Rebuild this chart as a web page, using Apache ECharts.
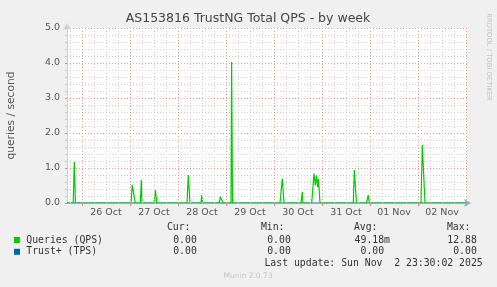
<!DOCTYPE html>
<html>
<head>
<meta charset="utf-8">
<script src="https://cdn.jsdelivr.net/npm/echarts@6/dist/echarts.min.js"></script>
<style>
html,body{margin:0;padding:0;background:#F0F0F0;}
#c{width:497px;height:287px;}
</style>
</head>
<body>
<div id="c"></div>
<script>
// ---- data (hours relative to 26 Oct 00:00) ----
const qpsHours = [-7.5, -4.4, -3.85, -3.3, 24.5, 25.15, 25.85, 26.15, 26.65, 29.15, 29.65, 30.0,
  36.0, 36.75, 37.35, 52.5, 53.15, 54.0, 59.5, 59.85, 60.35, 68.65, 69.15, 70.0, 70.65,
  74.5, 74.8, 75.25, 99.0, 100.15, 101.0, 109.5, 110.15, 110.4,
  114.85, 116.0, 116.65, 117.25, 117.85, 118.25, 119.0, 135.65, 136.15, 137.25,
  142.25, 142.65, 143.15, 143.5, 144.0, 169.5, 170.15, 171.5, 192.5];
const qpsValues = [0, 0, 1.18, 0, 0, 0.52, 0.27, 0.27, 0, 0, 0.66, 0,
  0, 0.37, 0, 0, 0.80, 0, 0, 0.23, 0, 0, 0.18, 0.18, 0,
  0, 4.03, 0, 0, 0.70, 0, 0, 0.32, 0,
  0, 0.84, 0.50, 0.79, 0.45, 0.69, 0, 0, 0.94, 0,
  0, 0.10, 0.23, 0.06, 0, 0, 1.66, 0, 0];
const tpsHours = [-7.5, 192.5];
const tpsValues = [0, 0];
const dayLabels = ['26 Oct', '27 Oct', '28 Oct', '29 Oct', '30 Oct', '31 Oct', '01 Nov', '02 Nov'];
const dayLabelHours = [12, 36, 60, 84, 108, 132, 156, 180];
const midnightHours = [0, 24, 48, 72, 96, 120, 144, 168, 192];
const sixHourHours = [-6, 6, 12, 18, 30, 36, 42, 54, 60, 66, 78, 84, 90, 102, 108, 114,
  126, 132, 138, 150, 156, 162, 174, 180, 186];
const yTickLabels = ['0.0', '1.0', '2.0', '3.0', '4.0', '5.0'];
const legendNames = ['Queries (QPS)', 'Trust+ (TPS)'];
const legendColors = ['#00CC00', '#0066B3'];
const curValues = ['0.00', '0.00'];
const minValues = ['0.00', '0.00'];
const avgValues = ['49.18m', '0.00 '];
const maxValues = ['12.88', '0.00'];
const titleText = 'AS153816 TrustNG Total QPS - by week';
const lastUpdate = 'Last update: Sun Nov  2 23:30:02 2025';

// ---- chart ----
const chart = echarts.init(document.getElementById('c'), null, {renderer: 'canvas'});
const mono = '9.8px "DejaVu Sans Mono"';
const legendText = [];
function t(text, x, y, align, font, fill) {
  legendText.push({type: 'text', silent: true, style: {text: text, x: x, y: y, font: font || mono,
    fill: fill || '#333', align: align, textAlign: align, verticalAlign: 'middle', textVerticalAlign: 'middle'}});
}
t('Cur:', 190.5, 227.5, 'right');
t('Min:', 284.5, 227.5, 'right');
t('Avg:', 377.5, 227.5, 'right');
t('Max:', 470.5, 227.5, 'right');
const rowY = [240, 251.8];
for (let i = 0; i < legendNames.length; i++) {
  legendText.push({type: 'rect', silent: true, shape: {x: 14, y: rowY[i] - 3, width: 6, height: 6},
    style: {fill: legendColors[i]}});
  t(legendNames[i], 26.3, rowY[i], 'left');
  t(curValues[i], 196.8, rowY[i], 'right');
  t(minValues[i], 290.8, rowY[i], 'right');
  t(avgValues[i], 390, rowY[i], 'right');
  t(maxValues[i], 476.8, rowY[i], 'right');
}
t(lastUpdate, 482.7, 263.5, 'right');
t('Munin 2.0.73', 248, 276.5, 'center', '7.5px "DejaVu Sans"', '#c4c4c4');
t(titleText, 248, 19, 'center', '12.5px "DejaVu Sans"', '#444');
legendText.push({type: 'text', silent: true, x: 11, y: 115.5, rotation: Math.PI / 2,
  style: {text: 'queries / second', x: 0, y: 0, font: '10.7px "DejaVu Sans"', fill: '#555',
    align: 'center', textAlign: 'center', verticalAlign: 'middle', textVerticalAlign: 'middle'}});
legendText.push({type: 'text', silent: true, x: 488.5, y: 57, rotation: -Math.PI / 2,
  style: {text: 'RRDTOOL / TOBI OETIKER', x: 0, y: 0, font: '6.8px "DejaVu Sans"', fill: '#c0c0c0',
    align: 'center', textAlign: 'center', verticalAlign: 'middle', textVerticalAlign: 'middle'}});

const option = {
  backgroundColor: '#F0F0F0',
  animation: false,
  grid: {left: 67, right: 30, top: 28, bottom: 84, show: true, backgroundColor: '#ffffff', borderWidth: 0},
  xAxis: {
    type: 'value', min: -7.5, max: 192.5, z: 5,
    axisLine: {show: true, onZero: false, symbol: ['none', 'arrow'], symbolSize: [6, 7], symbolOffset: [0, 4],
      lineStyle: {color: '#9aa6d8', width: 1}},
    axisTick: {show: true, customValues: midnightHours, length: 3, lineStyle: {color: '#e88080'}},
    axisLabel: {show: true, customValues: dayLabelHours, margin: 5, fontSize: 9.5,
      fontFamily: 'DejaVu Sans', color: '#555',
      formatter: function (v) { const i = dayLabelHours.indexOf(v); return i >= 0 ? dayLabels[i] : ''; }},
    splitLine: {show: false}
  },
  yAxis: {
    type: 'value', min: 0, max: 5, interval: 1,
    axisLine: {show: true, onZero: false, symbol: ['none', 'arrow'], symbolSize: [6, 7], symbolOffset: [0, 5],
      lineStyle: {color: '#c8d0f0', width: 1}},
    axisTick: {show: true, length: 2, lineStyle: {color: '#e88080'}},
    minorTick: {show: true, splitNumber: 5, length: 2, lineStyle: {color: '#c8c8c8'}},
    axisLabel: {margin: 7, fontSize: 9.5, fontFamily: 'DejaVu Sans', color: '#555',
      formatter: function (v) { return yTickLabels[Math.round(v)]; }},
    splitLine: {show: true, lineStyle: {color: '#e89a9a', type: [1, 2], width: 1}},
    minorSplitLine: {show: true, lineStyle: {color: '#d0d0d0', type: [1, 2], width: 1}}
  },
  series: [
    {type: 'line', z: 1, silent: true, data: [[-7.5, 0]], showSymbol: false, lineStyle: {width: 0},
      markLine: {silent: true, symbol: 'none', animation: false, label: {show: false},
        lineStyle: {color: '#d0d0d0', type: [1, 2], width: 1},
        data: sixHourHours.map(h => ({xAxis: h}))}},
    {type: 'line', z: 1, silent: true, data: [[-7.5, 0]], showSymbol: false, lineStyle: {width: 0},
      markLine: {silent: true, symbol: 'none', animation: false, label: {show: false},
        lineStyle: {color: '#e89a9a', type: [1, 2], width: 1},
        data: midnightHours.map(h => ({xAxis: h}))}},
    {name: 'Queries (QPS)', type: 'line', z: 3, showSymbol: false, silent: true,
      lineStyle: {color: '#00CC00', width: 1.2}, itemStyle: {color: '#00CC00'},
      data: qpsHours.map((h, i) => [h, qpsValues[i]])},
    {name: 'Trust+ (TPS)', type: 'line', z: 2, showSymbol: false, silent: true,
      lineStyle: {color: '#0066B3', width: 1}, itemStyle: {color: '#0066B3'},
      data: tpsHours.map((h, i) => [h, tpsValues[i]])}
  ],
  graphic: legendText
};
chart.setOption(option);
</script>
</body>
</html>
